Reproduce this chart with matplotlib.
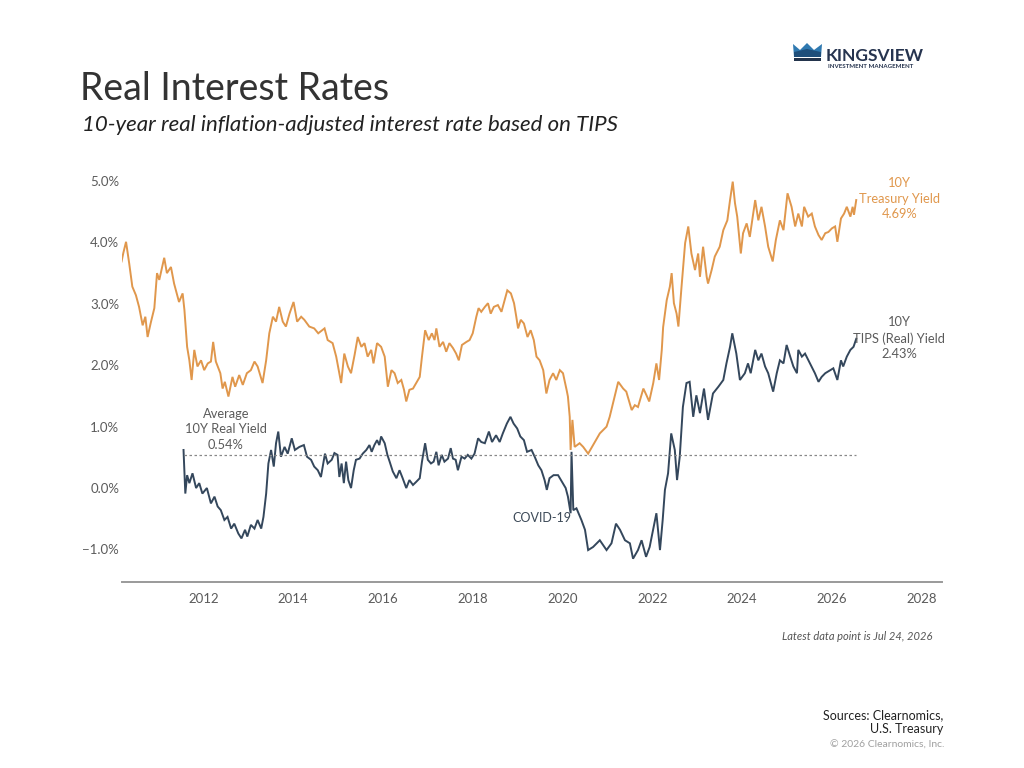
import matplotlib
matplotlib.use("Agg")
import matplotlib.pyplot as plt
from matplotlib.patches import Polygon, Rectangle

# 10Y Treasury yield (decimal year, %)
tsy_t = [2010.18, 2010.22, 2010.28, 2010.35, 2010.42, 2010.50, 2010.57, 2010.65, 2010.71, 2010.76,
         2010.83, 2010.91, 2010.97, 2011.02, 2011.13, 2011.19, 2011.28, 2011.35, 2011.46, 2011.54,
         2011.58, 2011.64, 2011.69, 2011.74, 2011.80, 2011.87, 2011.95, 2012.02, 2012.10, 2012.17,
         2012.22, 2012.28, 2012.38, 2012.43, 2012.48, 2012.56, 2012.65, 2012.71, 2012.80, 2012.88,
         2012.97, 2013.06, 2013.14, 2013.21, 2013.32, 2013.40, 2013.47, 2013.55, 2013.62, 2013.69,
         2013.77, 2013.84, 2013.92, 2014.01, 2014.09, 2014.18, 2014.25, 2014.36, 2014.47, 2014.56,
         2014.70, 2014.77, 2014.88, 2014.96, 2015.07, 2015.14, 2015.22, 2015.29, 2015.37, 2015.44,
         2015.52, 2015.59, 2015.66, 2015.74, 2015.79, 2015.87, 2015.96, 2016.04, 2016.11, 2016.19,
         2016.26, 2016.33, 2016.41, 2016.47, 2016.52, 2016.59, 2016.67, 2016.74, 2016.82, 2016.87,
         2016.94, 2017.02, 2017.09, 2017.15, 2017.19, 2017.26, 2017.34, 2017.41, 2017.48, 2017.56,
         2017.63, 2017.69, 2017.76, 2017.86, 2017.93, 2018.00, 2018.08, 2018.13, 2018.19, 2018.27,
         2018.34, 2018.40, 2018.47, 2018.56, 2018.64, 2018.71, 2018.77, 2018.85, 2018.92, 2018.97,
         2019.01, 2019.07, 2019.14, 2019.22, 2019.29, 2019.36, 2019.42, 2019.49, 2019.57, 2019.64,
         2019.71, 2019.79, 2019.86, 2019.94, 2020.01, 2020.09, 2020.12, 2020.16, 2020.18, 2020.22,
         2020.27, 2020.38, 2020.46, 2020.57, 2020.68, 2020.83, 2020.98, 2021.05, 2021.16, 2021.24,
         2021.35, 2021.42, 2021.54, 2021.61, 2021.68, 2021.80, 2021.87, 2021.93, 2022.02, 2022.09,
         2022.15, 2022.21, 2022.24, 2022.32, 2022.39, 2022.43, 2022.48, 2022.54, 2022.58, 2022.65,
         2022.73, 2022.80, 2022.87, 2022.95, 2023.02, 2023.06, 2023.13, 2023.21, 2023.24, 2023.32,
         2023.39, 2023.50, 2023.58, 2023.67, 2023.73, 2023.79, 2023.84, 2023.89, 2023.97, 2024.02,
         2024.10, 2024.17, 2024.29, 2024.36, 2024.43, 2024.51, 2024.58, 2024.68, 2024.75, 2024.84,
         2024.92, 2025.01, 2025.10, 2025.18, 2025.25, 2025.33, 2025.38, 2025.47, 2025.55, 2025.62,
         2025.70, 2025.77, 2025.85, 2025.92, 2026.00, 2026.07, 2026.12, 2026.20, 2026.27, 2026.33,
         2026.41, 2026.46, 2026.49, 2026.54]
tsy_v = [3.69, 3.83, 4.01, 3.66, 3.28, 3.14, 2.95, 2.65, 2.79, 2.46,
         2.69, 2.93, 3.50, 3.39, 3.75, 3.50, 3.60, 3.33, 3.03, 3.17,
         2.90, 2.30, 2.08, 1.76, 2.25, 1.98, 2.08, 1.92, 2.03, 2.06,
         2.38, 2.06, 1.87, 1.62, 1.73, 1.49, 1.81, 1.65, 1.84, 1.68,
         1.87, 1.92, 2.06, 1.98, 1.71, 2.08, 2.52, 2.79, 2.71, 2.95,
         2.71, 2.63, 2.84, 3.03, 2.71, 2.79, 2.74, 2.63, 2.60, 2.52,
         2.60, 2.41, 2.36, 2.14, 1.71, 2.19, 1.98, 1.87, 2.17, 2.46,
         2.30, 2.36, 2.14, 2.25, 2.03, 2.36, 2.30, 2.14, 1.65, 1.92,
         1.87, 1.71, 1.76, 1.60, 1.41, 1.60, 1.62, 1.71, 1.81, 2.14,
         2.57, 2.41, 2.52, 2.41, 2.60, 2.30, 2.38, 2.22, 2.36, 2.28,
         2.19, 2.08, 2.33, 2.38, 2.41, 2.52, 2.79, 2.93, 2.87, 2.95,
         3.01, 2.84, 2.95, 2.98, 2.87, 3.06, 3.22, 3.17, 3.01, 2.79,
         2.60, 2.74, 2.68, 2.46, 2.57, 2.41, 2.14, 2.08, 1.92, 1.54,
         1.76, 1.87, 1.76, 1.92, 1.87, 1.60, 1.49, 1.16, 0.62, 1.11,
         0.67, 0.73, 0.67, 0.56, 0.70, 0.89, 1.00, 1.16, 1.49, 1.73,
         1.62, 1.57, 1.27, 1.35, 1.32, 1.62, 1.51, 1.41, 1.71, 2.03,
         1.76, 2.25, 2.62, 3.06, 3.28, 3.50, 3.01, 2.84, 2.63, 3.28,
         3.99, 4.26, 3.82, 3.55, 3.82, 3.44, 3.93, 3.44, 3.33, 3.55,
         3.77, 3.93, 4.20, 4.36, 4.69, 4.99, 4.64, 4.42, 3.82, 4.15,
         4.31, 4.09, 4.69, 4.36, 4.58, 4.26, 3.93, 3.69, 4.04, 4.36,
         4.20, 4.80, 4.58, 4.26, 4.47, 4.26, 4.58, 4.42, 4.47, 4.26,
         4.12, 4.04, 4.15, 4.17, 4.23, 4.26, 4.01, 4.39, 4.47, 4.58,
         4.42, 4.58, 4.45, 4.69]

# 10Y TIPS real yield (decimal year, %)
tips_t = [2011.56, 2011.60, 2011.64, 2011.69, 2011.76, 2011.84, 2011.91, 2011.98, 2012.08, 2012.17,
          2012.25, 2012.32, 2012.39, 2012.47, 2012.54, 2012.62, 2012.69, 2012.78, 2012.85, 2012.93,
          2012.98, 2013.06, 2013.14, 2013.21, 2013.29, 2013.34, 2013.40, 2013.45, 2013.51, 2013.57,
          2013.62, 2013.67, 2013.73, 2013.81, 2013.88, 2013.97, 2014.04, 2014.14, 2014.24, 2014.31,
          2014.40, 2014.47, 2014.55, 2014.62, 2014.71, 2014.77, 2014.86, 2014.92, 2014.99, 2015.03,
          2015.08, 2015.13, 2015.18, 2015.23, 2015.29, 2015.35, 2015.40, 2015.48, 2015.55, 2015.63,
          2015.70, 2015.75, 2015.81, 2015.87, 2015.92, 2015.96, 2016.04, 2016.10, 2016.15, 2016.22,
          2016.30, 2016.37, 2016.44, 2016.52, 2016.59, 2016.67, 2016.74, 2016.82, 2016.87, 2016.94,
          2017.00, 2017.07, 2017.13, 2017.19, 2017.24, 2017.31, 2017.37, 2017.45, 2017.51, 2017.56,
          2017.62, 2017.67, 2017.75, 2017.82, 2017.89, 2017.97, 2018.04, 2018.12, 2018.19, 2018.27,
          2018.36, 2018.43, 2018.52, 2018.60, 2018.67, 2018.76, 2018.84, 2018.91, 2018.99, 2019.06,
          2019.14, 2019.21, 2019.31, 2019.38, 2019.46, 2019.53, 2019.60, 2019.65, 2019.71, 2019.80,
          2019.90, 2019.99, 2020.07, 2020.12, 2020.18, 2020.20, 2020.24, 2020.31, 2020.42, 2020.50,
          2020.57, 2020.68, 2020.83, 2020.98, 2021.09, 2021.19, 2021.28, 2021.39, 2021.50, 2021.57,
          2021.68, 2021.76, 2021.86, 2021.94, 2022.03, 2022.09, 2022.17, 2022.23, 2022.28, 2022.35,
          2022.42, 2022.50, 2022.55, 2022.61, 2022.68, 2022.76, 2022.83, 2022.91, 2022.98, 2023.06,
          2023.15, 2023.24, 2023.35, 2023.47, 2023.58, 2023.65, 2023.73, 2023.78, 2023.87, 2023.95,
          2024.06, 2024.13, 2024.19, 2024.29, 2024.36, 2024.43, 2024.51, 2024.58, 2024.69, 2024.77,
          2024.84, 2024.92, 2024.99, 2025.07, 2025.14, 2025.22, 2025.25, 2025.33, 2025.40, 2025.51,
          2025.62, 2025.70, 2025.77, 2025.85, 2025.96, 2026.03, 2026.12, 2026.20, 2026.25, 2026.33,
          2026.41, 2026.48, 2026.54]
tips_v = [0.62, -0.09, 0.21, 0.08, 0.24, 0.00, 0.08, -0.09, 0.00, -0.25,
          -0.14, -0.30, -0.36, -0.52, -0.47, -0.66, -0.58, -0.74, -0.82, -0.68,
          -0.79, -0.60, -0.66, -0.52, -0.66, -0.47, -0.09, 0.40, 0.62, 0.35,
          0.73, 0.92, 0.51, 0.67, 0.56, 0.81, 0.62, 0.67, 0.70, 0.51,
          0.46, 0.35, 0.29, 0.18, 0.56, 0.40, 0.46, 0.57, 0.54, 0.18,
          0.40, 0.08, 0.43, 0.13, 0.00, 0.29, 0.46, 0.48, 0.56, 0.62,
          0.70, 0.59, 0.70, 0.78, 0.70, 0.84, 0.73, 0.54, 0.43, 0.27,
          0.16, 0.29, 0.16, 0.00, 0.13, 0.05, 0.10, 0.16, 0.43, 0.73,
          0.46, 0.40, 0.43, 0.59, 0.37, 0.54, 0.43, 0.48, 0.65, 0.48,
          0.46, 0.29, 0.51, 0.48, 0.54, 0.48, 0.56, 0.81, 0.75, 0.73,
          0.92, 0.75, 0.86, 0.75, 0.89, 1.05, 1.16, 1.05, 0.97, 0.84,
          0.78, 0.59, 0.62, 0.51, 0.37, 0.29, 0.13, -0.03, 0.16, 0.21,
          0.21, 0.10, 0.00, -0.14, -0.41, 0.59, -0.36, -0.33, -0.52, -0.68,
          -1.01, -0.96, -0.85, -1.01, -0.90, -0.58, -0.68, -0.85, -0.90, -1.15,
          -1.01, -0.85, -1.12, -0.96, -0.63, -0.41, -1.01, -0.52, -0.03, 0.24,
          0.89, 0.62, 0.13, 0.51, 1.32, 1.71, 1.73, 1.16, 1.51, 1.22,
          1.62, 1.11, 1.54, 1.65, 1.76, 2.03, 2.30, 2.52, 2.19, 1.76,
          1.87, 2.03, 1.87, 2.25, 2.08, 2.19, 1.98, 1.87, 1.57, 1.87,
          2.08, 2.03, 2.33, 2.14, 1.98, 1.87, 2.25, 2.14, 2.19, 2.03,
          1.87, 1.73, 1.81, 1.87, 1.92, 1.95, 1.76, 2.08, 1.98, 2.14,
          2.25, 2.30, 2.43]

avg_real = 0.54
years = [2012, 2014, 2016, 2018, 2020, 2022, 2024, 2026, 2028]
y_ticks = [-1, 0, 1, 2, 3, 4, 5]

orange = "#E0974C"
navy = "#34475C"
grey = "#5B5B5B"

plt.rcParams['font.family'] = ['Lato', 'DejaVu Sans']

W, H = 1024, 768
fig = plt.figure(figsize=(W / 100, H / 100), dpi=100)


def px(x, y):
    return x / W, 1 - y / H


# axes box in pixels: left 122, right 942, top ~163, bottom 582
ax = fig.add_axes([122 / W, 1 - 582 / H, (942 - 122) / W, (582 - 162.6) / H])
ax.set_xlim(2010.19, 2028.45)
ax.set_ylim(-1.53, 5.30)

ax.plot(tsy_t, tsy_v, color=orange, lw=1.4, solid_joinstyle='miter')
ax.plot(tips_t, tips_v, color=navy, lw=1.4, solid_joinstyle='miter')
ax.plot([tips_t[0], tips_t[-1]], [avg_real, avg_real], color="#888888", lw=0.9,
        linestyle=(0, (2, 2)))

for s in ['top', 'right', 'left']:
    ax.spines[s].set_visible(False)
ax.spines['bottom'].set_color("#9a9a9a")
ax.spines['bottom'].set_linewidth(1.4)
ax.set_xticks(years)
ax.set_xticklabels([str(y) for y in years])
ax.set_yticks(y_ticks)
ax.set_yticklabels(["%.1f%%" % v if v >= 0 else "\u2212%.1f%%" % -v for v in y_ticks])
ax.tick_params(axis='both', length=0, colors=grey, labelsize=9.5)
ax.tick_params(axis='x', pad=8)
ax.tick_params(axis='y', pad=2)

# annotations
ax.text(2027.5, 4.71, "10Y\nTreasury Yield\n4.69%", color=orange, fontsize=9.3,
        ha='center', va='center', linespacing=1.35)
ax.text(2027.5, 2.44, "10Y\nTIPS (Real) Yield\n2.43%", color=grey, fontsize=9.3,
        ha='center', va='center', linespacing=1.35)
ax.text(2012.5, 0.96, "Average\n10Y Real Yield\n0.54%", color=grey, fontsize=9.3,
        ha='center', va='center', linespacing=1.35)
ax.text(2020.2, -0.49, "COVID-19", color="#3d4a58", fontsize=9, ha='right', va='center')

# titles
fig.text(*px(80, 100), "Real Interest Rates", fontsize=27, color="#333333", va='baseline')
fig.text(*px(82, 131), "10-year real inflation-adjusted interest rate based on TIPS",
         fontsize=16, style='italic', color="#222222", va='baseline')

# footer
fig.text(*px(932, 640), "Latest data point is Jul 24, 2026", fontsize=8, style='italic',
         color="#555555", ha='right', va='baseline')
fig.text(*px(943, 719), "Sources: Clearnomics,", fontsize=9, color="#222222", ha='right', va='baseline')
fig.text(*px(943, 733), "U.S. Treasury", fontsize=9, color="#222222", ha='right', va='baseline')
fig.text(*px(945, 748), "\u00a9 2026 Clearnomics, Inc.", fontsize=7.5, color="#a0a0a0",
         ha='right', va='baseline')

# logo
crown = [(793, 44), (800, 50), (807, 43), (814, 50), (822, 44), (821, 57), (794, 57)]
fig.patches.append(Polygon([px(x, y) for x, y in crown], closed=True, transform=fig.transFigure,
                           facecolor="#2F79B0", edgecolor='none'))
fig.patches.append(Polygon([px(x, y) for x, y in [(794, 52), (807, 49), (821, 52), (821, 57), (794, 57)]],
                           closed=True, transform=fig.transFigure, facecolor="#1E4E7A", edgecolor='none'))
fig.patches.append(Rectangle(px(794, 61), 27 / W, 3 / H, transform=fig.transFigure,
                             facecolor="#23344C", edgecolor='none'))
fig.text(*px(826, 61), "KINGSVIEW", fontsize=12.5, fontweight='bold', color="#26344F", va='baseline')
fig.text(*px(828, 68.5), "INVESTMENT MANAGEMENT", fontsize=4.4, fontweight='bold', color="#26344F",
         va='baseline')

fig.savefig("out.png", dpi=100)
